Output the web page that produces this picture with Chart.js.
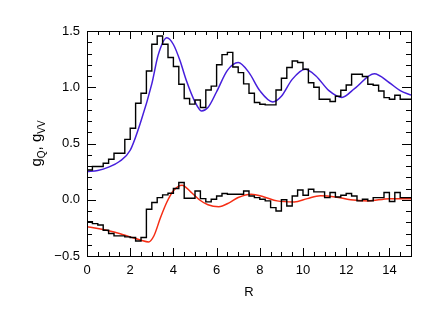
<!DOCTYPE html>
<html>
<head>
<meta charset="utf-8">
<script src="https://cdn.jsdelivr.net/npm/chart.js@4.4.1/dist/chart.umd.min.js"></script>
<style>
  html, body { margin: 0; padding: 0; background: #fff; }
  #wrap { width: 436px; height: 312px; }
</style>
</head>
<body>
<div id="wrap"><canvas id="gChart" width="436" height="312"></canvas></div>
<script>
// histogram bins, width 0.25 in R, from 0 to 15
var binWidth = 0.25;
var gQHist = [
  0.265, 0.265, 0.295, 0.295, 0.324, 0.36, 0.413, 0.413, 0.537, 0.636,
  0.858, 0.947, 1.145, 1.382, 1.456, 1.382, 1.264, 1.184, 1.027, 0.90,
  0.85, 0.887, 0.82, 0.976, 1.01, 1.20, 1.29, 1.31, 1.18, 1.13,
  1.03, 0.947, 0.864, 0.849, 0.843, 0.843, 0.976, 1.08, 1.175, 1.234,
  1.22, 1.16, 1.04, 1.0, 0.893, 0.893, 0.873, 0.92, 0.973, 1.02,
  1.116, 1.116, 1.095, 1.027, 1.018, 0.967, 0.908, 0.893, 0.929, 0.893
];
var gVVHist = [
  -0.055, -0.194, -0.212, -0.224, -0.271, -0.30, -0.321, -0.321, -0.33, -0.336,
  -0.366, -0.336, -0.084, -0.025, 0.019, 0.043, 0.058, 0.10, 0.153, 0.013,
  0.013, 0.078, 0.01, -0.019, 0.004, 0.034, 0.055, 0.049, 0.049, 0.049,
  0.078, 0.034, 0.019, 0.004, -0.01, -0.07, -0.10, 0.0, -0.055, 0.034,
  0.087, 0.04, 0.093, 0.07, 0.07, 0.019, 0.064, 0.025, 0.04, 0.055,
  0.034, -0.01, 0.004, -0.01, 0.019, 0.019, 0.064, -0.016, 0.064, 0.019
];

// smooth model curves
var blueR = [0, 0.5, 1.0, 1.5, 2.0, 2.5, 3.0, 3.3, 3.7, 4.0, 4.3, 4.6, 5.0, 5.3, 5.6, 6.0, 6.5, 7.0, 7.5, 8.0, 8.6, 9.0, 9.5, 10.1, 10.6, 11.2, 11.8, 12.4, 13.3, 14.0, 14.5, 15.0];
var blueG = [0.25, 0.26, 0.29, 0.34, 0.44, 0.70, 1.03, 1.29, 1.44, 1.38, 1.24, 1.06, 0.87, 0.79, 0.82, 0.96, 1.15, 1.22, 1.13, 0.97, 0.87, 0.92, 1.07, 1.16, 1.10, 0.97, 0.91, 0.99, 1.12, 1.04, 0.97, 0.93];
var redR = [0, 0.5, 1.0, 1.5, 2.0, 2.5, 2.85, 3.1, 3.4, 3.7, 4.0, 4.4, 4.8, 5.2, 5.6, 6.1, 6.6, 7.0, 7.6, 8.2, 8.8, 9.6, 10.2, 10.8, 11.5, 12.2, 13.0, 14.0, 15.0];
var redG = [-0.24, -0.255, -0.275, -0.30, -0.33, -0.36, -0.375, -0.32, -0.16, -0.02, 0.08, 0.13, 0.07, 0.0, -0.045, -0.062, -0.025, 0.02, 0.05, 0.025, -0.01, -0.02, 0.01, 0.035, 0.025, 0.0, -0.01, 0.01, 0.01];

var xMin = 0, xMax = 15, yMin = -0.5, yMax = 1.5;

function histPoints(vals) {
  var pts = vals.map(function (v, i) { return { x: i * binWidth, y: v }; });
  pts.push({ x: vals.length * binWidth, y: vals[vals.length - 1] });
  return pts;
}
function curvePoints(xs, ys) {
  return xs.map(function (x, i) { return { x: x, y: ys[i] }; });
}

var fontFam = "'Liberation Sans', Arial, sans-serif";

// IDL style box: inward ticks on all four sides
var boxTicks = {
  id: "boxTicks",
  afterDraw: function (chart) {
    var ctx = chart.ctx, a = chart.chartArea;
    var xs = chart.scales.x, ys = chart.scales.y;
    ctx.save();
    ctx.strokeStyle = "#000";
    ctx.lineWidth = 1;
    ctx.strokeRect(a.left + 0.5, a.top + 0.5, a.right - a.left, a.bottom - a.top);
    ctx.beginPath();
    for (var i = 0; i <= 30; i++) {
      var v = i * 0.5;
      var len = (i % 4 === 0) ? 8 : 4;
      var px = Math.round(xs.getPixelForValue(v)) + 0.5;
      ctx.moveTo(px, a.bottom); ctx.lineTo(px, a.bottom - len);
      ctx.moveTo(px, a.top); ctx.lineTo(px, a.top + len);
    }
    for (var j = -5; j <= 15; j++) {
      var w = j / 10;
      var l2 = (j % 5 === 0) ? 9 : 5;
      var py = Math.round(ys.getPixelForValue(w)) + 0.5;
      ctx.moveTo(a.left, py); ctx.lineTo(a.left + l2, py);
      ctx.moveTo(a.right, py); ctx.lineTo(a.right - l2, py);
    }
    ctx.stroke();

    // y axis title with subscripts: g_Q, g_VV
    var parts = [["g", 15, 0], ["Q", 10, 4], [", g", 15, 0], ["VV", 10, 4]];
    var total = 0;
    parts.forEach(function (p) { ctx.font = p[1] + "px " + fontFam; total += ctx.measureText(p[0]).width; });
    ctx.translate(36, (a.top + a.bottom) / 2);
    ctx.rotate(-Math.PI / 2);
    ctx.fillStyle = "#000";
    ctx.textBaseline = "alphabetic";
    var cx = -total / 2;
    parts.forEach(function (p) {
      ctx.font = p[1] + "px " + fontFam;
      ctx.fillText(p[0], cx, 5 + p[2]);
      cx += ctx.measureText(p[0]).width;
    });
    ctx.restore();
  }
};

var ctx = document.getElementById("gChart");
var chart = new Chart(ctx, {
  type: "line",
  data: {
    datasets: [
      { data: histPoints(gQHist), stepped: "after", borderColor: "#000", borderWidth: 1.4, pointRadius: 0, fill: false },
      { data: histPoints(gVVHist), stepped: "after", borderColor: "#000", borderWidth: 1.4, pointRadius: 0, fill: false },
      { data: curvePoints(blueR, blueG), cubicInterpolationMode: "monotone", borderColor: "rgb(70, 30, 220)", borderWidth: 1.5, pointRadius: 0, fill: false },
      { data: curvePoints(redR, redG), cubicInterpolationMode: "monotone", borderColor: "rgb(245, 45, 20)", borderWidth: 1.5, pointRadius: 0, fill: false }
    ]
  },
  options: {
    responsive: false,
    animation: false,
    layout: { padding: { left: 0, top: 31, right: 25, bottom: 0 } },
    plugins: { legend: { display: false }, tooltip: { enabled: false } },
    scales: {
      x: {
        type: "linear",
        min: xMin, max: xMax,
        grid: { display: false, drawTicks: false },
        border: { display: false },
        ticks: { stepSize: 2, includeBounds: false, padding: 7, color: "#000", font: { family: fontFam, size: 13 } },
        title: { display: true, text: "R", color: "#000", padding: { top: 0, bottom: 12 }, font: { family: fontFam, size: 13 } },
        afterFit: function (s) { s.height = 56; }
      },
      y: {
        type: "linear",
        min: yMin, max: yMax,
        grid: { display: false, drawTicks: false },
        border: { display: false },
        ticks: {
          stepSize: 0.5, padding: 7, color: "#000", font: { family: fontFam, size: 13 },
          callback: function (v) { return (v < 0 ? "\u2212" : "") + Math.abs(v).toFixed(1); }
        },
        afterFit: function (s) { s.width = 87; }
      }
    }
  },
  plugins: [boxTicks]
});
</script>
</body>
</html>
